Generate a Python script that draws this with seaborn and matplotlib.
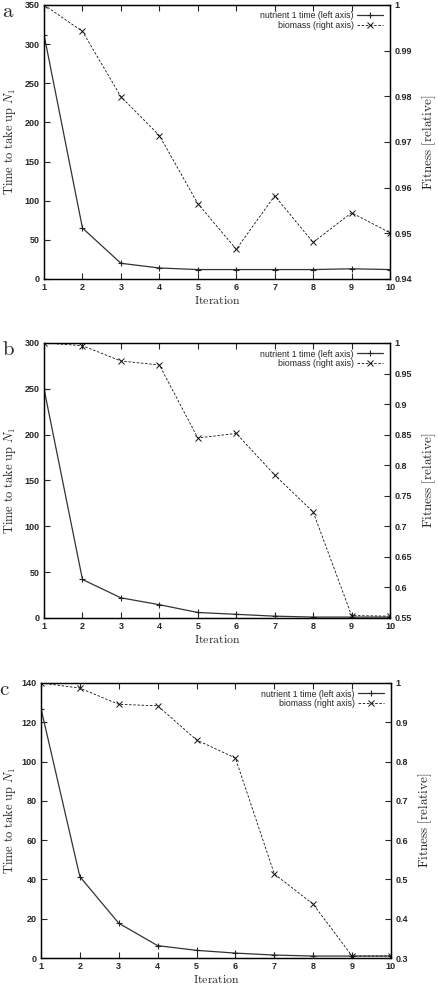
import matplotlib
matplotlib.use("Agg")
import matplotlib.pyplot as plt
import seaborn as sns
import numpy as np

iterations = [1, 2, 3, 4, 5, 6, 7, 8, 9, 10]

nutrient_a = [312, 65, 20, 14, 12, 12, 12, 12, 13, 12]
biomass_a = [1.0, 0.9942, 0.9799, 0.9714, 0.9565, 0.9465, 0.9582, 0.9480, 0.9545, 0.9501]

nutrient_b = [250, 42, 22, 14.5, 6, 4, 2, 1, 1, 1]
biomass_b = [1.0, 0.9956, 0.9705, 0.964, 0.8445, 0.852, 0.784, 0.7235, 0.554, 0.553]

nutrient_c = [127, 41.4, 17.7, 6.3, 3.9, 2.5, 1.5, 1.0, 1.0, 1.0]
biomass_c = [1.0, 0.987, 0.9457, 0.942, 0.855, 0.809, 0.514, 0.437, 0.305, 0.305]

panel_letters = ["a", "b", "c"]
left_limits = [(0, 350), (0, 300), (0, 140)]
left_ticks = [[0, 50, 100, 150, 200, 250, 300, 350],
              [0, 50, 100, 150, 200, 250, 300],
              [0, 20, 40, 60, 80, 100, 120, 140]]
right_limits = [(0.94, 1.0), (0.55, 1.0), (0.3, 1.0)]
right_ticks = [[0.94, 0.95, 0.96, 0.97, 0.98, 0.99, 1.0],
               [0.55, 0.6, 0.65, 0.7, 0.75, 0.8, 0.85, 0.9, 0.95, 1.0],
               [0.3, 0.4, 0.5, 0.6, 0.7, 0.8, 0.9, 1.0]]
right_ticklabels = [["0.94", "0.95", "0.96", "0.97", "0.98", "0.99", "1"],
                    ["0.55", "0.6", "0.65", "0.7", "0.75", "0.8", "0.85", "0.9", "0.95", "1"],
                    ["0.3", "0.4", "0.5", "0.6", "0.7", "0.8", "0.9", "1"]]
nutrient_label = "nutrient 1 time (left axis)"
biomass_label = "biomass (right axis)"

sns.set_style("ticks")
plt.rcParams["font.family"] = ["Liberation Sans", "DejaVu Sans"]
plt.rcParams["mathtext.fontset"] = "cm"

fig = plt.figure(figsize=(4.38, 9.85), dpi=100)

positions = [
    [0.1005, 0.7168, 0.790, 0.2782],
    [0.1005, 0.3726, 0.790, 0.2792],
    [0.0936, 0.0274, 0.799, 0.2792],
]
left_pads = [5, 5, 3]

nutrients = [nutrient_a, nutrient_b, nutrient_c]
biomasses = [biomass_a, biomass_b, biomass_c]

for i in range(3):
    ax = fig.add_axes(positions[i])
    ax2 = ax.twinx()
    sns.lineplot(x=iterations, y=nutrients[i], ax=ax, color="#333333", lw=0.9,
                 marker="+", markersize=5, markeredgewidth=0.8, markeredgecolor="#222222",
                 label=nutrient_label, legend=False)
    sns.lineplot(x=iterations, y=biomasses[i], ax=ax2, color="#111111", lw=0.6,
                 marker="x", markersize=4, markeredgewidth=0.7, markeredgecolor="#111111",
                 linestyle=(0, (3, 2)), label=biomass_label, legend=False)
    ax.set_xlim(1, 10)
    ax.set_ylim(*left_limits[i])
    ax.set_yticks(left_ticks[i])
    ax.set_xticks(iterations)
    ax2.set_ylim(*right_limits[i])
    ax2.set_yticks(right_ticks[i])
    ax2.set_yticklabels(right_ticklabels[i])
    for a in (ax, ax2):
        for s in a.spines.values():
            s.set_visible(True)
            s.set_linewidth(0.9)
            s.set_color("black")
    ax.tick_params(axis="both", direction="in", length=4, width=0.8, labelsize=6.5,
                   top=True, pad=3)
    ax.tick_params(axis="y", right=False)
    ax2.tick_params(axis="y", direction="in", length=4, width=0.8, labelsize=6.5, pad=3)
    for lab in ax.get_xticklabels() + ax.get_yticklabels() + ax2.get_yticklabels():
        lab.set_fontweight("bold")
    ax.set_xlabel(r"$\mathrm{Iteration}$", fontsize=8.5, labelpad=2)
    ax.set_ylabel(r"$\mathrm{Time\ to\ take\ up\ }N_1$", fontsize=9, labelpad=left_pads[i])
    ax2.set_ylabel(r"$\mathrm{Fitness\ [relative]}$", fontsize=9.5, labelpad=6)
    handles = ax.get_lines()[:1] + ax2.get_lines()[:1]
    leg = ax2.legend(handles, [nutrient_label, biomass_label], loc="upper right",
                     frameon=False, markerfirst=False, fontsize=6.3, handlelength=3.0,
                     borderaxespad=0.35, labelspacing=0.05, handletextpad=0.4)
    for t in leg.get_texts():
        t.set_ha("right")
    fig.text(positions[i][0] - 0.095, positions[i][1] + positions[i][3] + 0.003,
             r"$\mathrm{" + panel_letters[i] + "}$", fontsize=15, va="top", ha="left")

fig.savefig("out.png", dpi=100)
